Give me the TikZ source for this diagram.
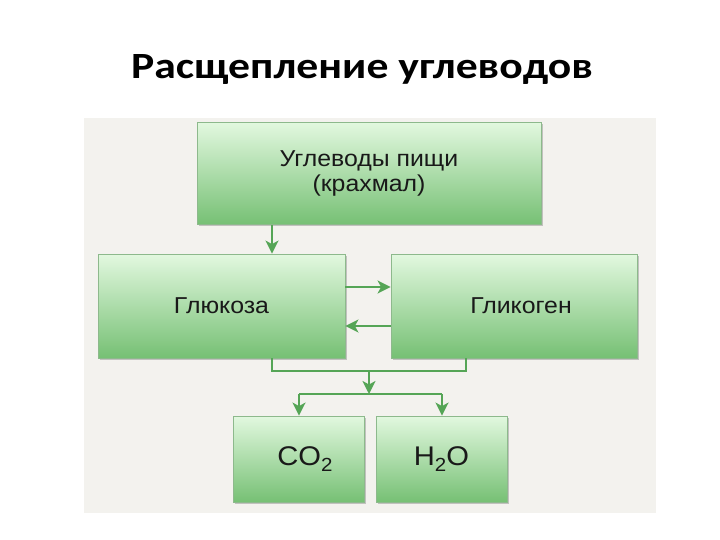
\documentclass[tikz,border=0pt]{standalone}
\usepackage{fontspec}
\setmainfont{Liberation Sans}
\newfontfamily\titlefont{Carlito}
\usetikzlibrary{arrows.meta,shadows}
\definecolor{panelbg}{HTML}{F3F2EE}
\definecolor{boxtop}{HTML}{E2F8DF}
\definecolor{boxbot}{HTML}{76C074}
\definecolor{boxline}{HTML}{8DB98C}
\definecolor{arrcol}{HTML}{55A556}
\newcommand{\wide}[2][1.08]{\scalebox{#1}[1]{#2}}
\tikzset{
  greenbox/.style={rectangle, draw=boxline, line width=0.8pt,
    top color=boxtop, bottom color=boxbot, inner sep=0pt, align=center,
    text=black!90,
    drop shadow={opacity=0.35, shadow xshift=2pt, shadow yshift=-2pt, fill=black!60}},
  conn/.style={draw=arrcol, line width=2.2pt},
  arr/.style={conn, -{Stealth[length=13pt,width=13pt,inset=3.5pt]}},
}
\begin{document}
\begin{tikzpicture}[x=1pt,y=-1pt]
\useasboundingbox (0,0) rectangle (720,540);
\fill[white] (0,0) rectangle (720,540);
\fill[panelbg] (84,118) rectangle (656,513);
\node[anchor=base, inner sep=0pt, font={\titlefont\bfseries\fontsize{37}{40}\selectfont}] (title) at (362,79) {\wide[1.18]{Расщепление углеводов}};

\node[greenbox, minimum width=344pt, minimum height=102pt,
  font=\fontsize{23}{25}\selectfont] (top) at (369,173.5) {\wide{Углеводы пищи}\\\wide{(крахмал)}};
\node[greenbox, minimum width=247pt, minimum height=104pt,
  font=\fontsize{23}{26}\selectfont] (gl) at (221.5,306) {\wide{Глюкоза}};
\node[greenbox, minimum width=246pt, minimum height=104pt,
  font=\fontsize{23}{26}\selectfont] (gy) at (514,306) {\hspace*{14pt}\wide{Гликоген}};
\node[greenbox, minimum width=131pt, minimum height=86pt,
  font=\fontsize{27}{30}\selectfont] (co) at (298.5,459) {\hspace*{13pt}\wide{CO\raisebox{-6pt}{\fontsize{19}{19}\selectfont 2}}};
\node[greenbox, minimum width=131pt, minimum height=86pt,
  font=\fontsize{27}{30}\selectfont] (h2o) at (441.5,459) {\wide{H\raisebox{-6pt}{\fontsize{19}{19}\selectfont 2}O}};

\coordinate (x1) at (272,0);
\coordinate (yR) at (0,287);
\coordinate (yL) at (0,326);
\coordinate (j1) at (272,371);
\coordinate (j2) at (466,371);
\coordinate (m1) at (369,371);
\coordinate (m2) at (369,394);
\coordinate (b1) at (299,394);
\coordinate (b2) at (442,394);

\draw[arr] (top.south -| x1) -- (gl.north -| x1);
\draw[arr] (gl.east |- yR) -- (gy.west |- yR);
\draw[arr] (gy.west |- yL) -- (gl.east |- yL);
\draw[conn] (gl.south -| j1) -- (j1) -- (j2) -- (gy.south -| j2);
\draw[arr] (m1) -- (m2);
\draw[conn] (b1) -- (b2);
\draw[arr] (b1) -- (co.north -| b1);
\draw[arr] (b2) -- (h2o.north -| b2);
\end{tikzpicture}
\end{document}
